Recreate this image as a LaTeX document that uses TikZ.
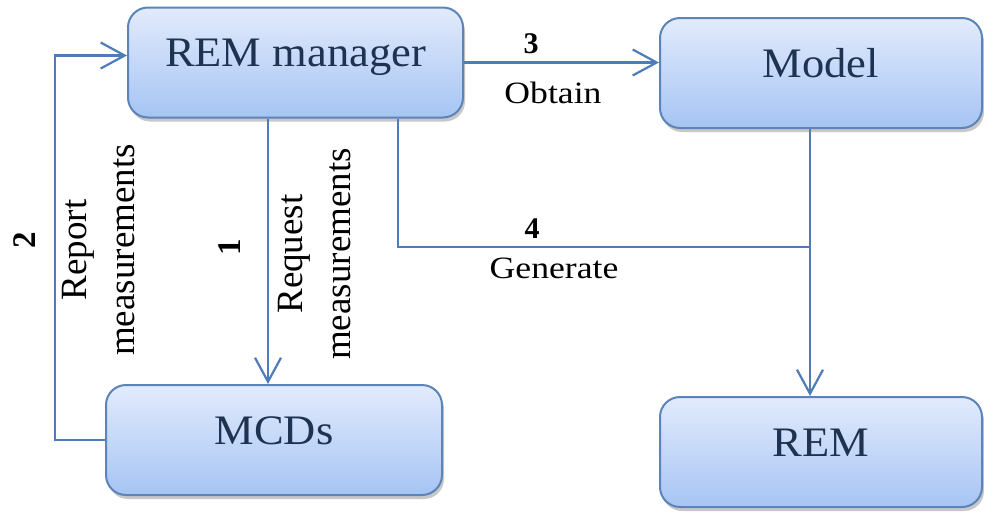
\documentclass[tikz,border=0pt]{standalone}
\usepackage{fontspec}
\setmainfont{Liberation Serif}
\newfontfamily\boxfont[FakeStretch=1.06]{Liberation Serif}
\newfontfamily\lblfont[FakeStretch=1.15]{Liberation Serif}
\usetikzlibrary{arrows.meta,shadows}
\definecolor{boxtop}{HTML}{E2EBFC}
\definecolor{boxbot}{HTML}{A6C4F3}
\definecolor{boxline}{HTML}{5C84B8}
\definecolor{conn}{HTML}{4E7CB9}
\definecolor{boxtext}{HTML}{1E3352}
\begin{document}
\begin{tikzpicture}[x=1pt,y=-1pt,
  blk/.style={draw=boxline, line width=2pt, rounded corners=20pt,
    top color=boxtop, bottom color=boxbot, minimum height=110pt,
    inner sep=0pt, text height=21pt, text depth=13pt,
    font=\fontsize{42}{50}\boxfont, text=boxtext,
    drop shadow={shadow xshift=2pt, shadow yshift=-4pt, opacity=0.3, fill=black!70}},
  conline/.style={draw=conn, line width=2.2pt},
  arr/.style={conline, -{Straight Barb[length=24pt, width=26pt]}},
  num/.style={inner sep=0pt, font=\fontsize{30}{36}\selectfont\bfseries},
  rnum/.style={inner sep=0pt, font=\fontsize{33}{40}\selectfont\bfseries, rotate=90},
  lbl/.style={inner sep=0pt, font=\fontsize{31}{38}\lblfont},
  vlbl/.style={inner sep=0pt, align=center, rotate=90, font=\fontsize{37}{48}\selectfont}]
\fill[white] (0,0) rectangle (984,512);
\useasboundingbox (0,0) rectangle (984,512);

\node[blk, minimum width=335pt] (rm) at (295.5,62.5) {REM manager};
\node[blk, minimum width=322pt] (model) at (821,73) {Model};
\node[blk, minimum width=336pt] (mcd) at (274,440) {MCDs};
\node[blk, minimum width=322pt] (rem) at (821,452) {REM};

\coordinate (rl) at (55,0);
\coordinate (rq) at (268,0);
\coordinate (gx) at (398,0);
\coordinate (j) at (810,247);

% 1 request
\draw[arr] (rm.south -| rq) -- (mcd.north -| rq);
% 2 report
\draw[arr] (mcd.west) -- (mcd.west -| rl) |- ([yshift=7pt]rm.west);
% 3 obtain
\draw[arr] (rm.east) -- (rm.east -| model.west);
% 4 generate
\draw[conline] (rm.south -| gx) |- (j);
\draw[arr] (model.south -| j) -- (rem.north -| j);

\node[num, anchor=base] (n3) at (531,53) {3};
\node[lbl, anchor=base] (ob) at (553,103) {Obtain};
\node[num, anchor=base] (n4) at (532,238) {4};
\node[lbl, anchor=base] (ge) at (554,278) {Generate};
\node[rnum] (n2) at (25,240) {2};
\node[vlbl] (rep) at (99,250) {Report\\measurements};
\node[rnum] (n1) at (230,247) {1};
\node[vlbl] (req) at (315,254) {Request\\measurements};
\end{tikzpicture}
\end{document}
